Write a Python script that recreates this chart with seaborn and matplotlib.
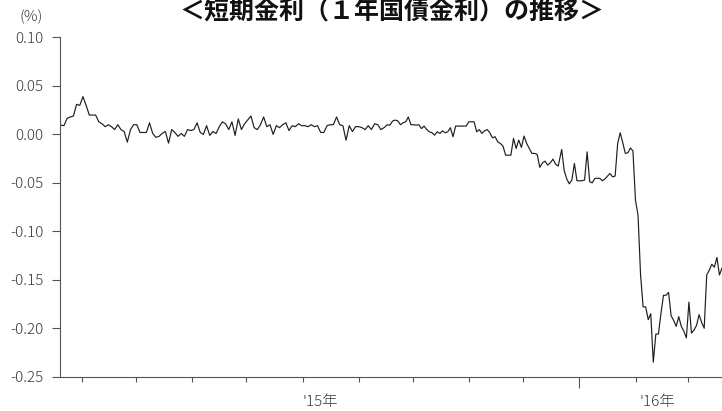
import numpy as np
import pandas as pd
import matplotlib
matplotlib.use("Agg")
import matplotlib.pyplot as plt
import matplotlib.dates as mdates
from matplotlib.ticker import FixedLocator
import seaborn as sns

# ---------------- data ----------------
title = "＜短期金利（１年国債金利）の推移＞"
unit_label = "(%)"
year_labels = ["'15年", "'16年"]
year_label_dates = ["2015-08-11", "2016-02-13"]
long_tick_date = "2016-01-01"
month_ticks = pd.date_range("2015-04-01", "2016-03-01", freq="MS")
yticks = [0.10, 0.05, 0.00, -0.05, -0.10, -0.15, -0.20, -0.25]

# 1-year JGB yield (%), 2015-03-20 .. 2015-09-16
rate_mar_sep = [
    0.0096, 0.009, 0.0165, 0.018, 0.019, 0.031, 0.030, 0.039, 0.030, 0.020,
    0.020, 0.020, 0.013, 0.011, 0.008, 0.010, 0.008, 0.005, 0.010, 0.005,
    0.003, -0.008, 0.005, 0.010, 0.010, 0.002, 0.002, 0.002, 0.012, 0.001,
    -0.003, -0.002, 0.001, 0.003, -0.009, 0.005, 0.002, -0.002, 0.001, -0.002,
    0.005, 0.004, 0.005, 0.012, 0.002, 0.000, 0.009, -0.001, 0.003, 0.001,
    0.008, 0.013, 0.011, 0.005, 0.013, -0.001, 0.016, 0.005, 0.011, 0.015,
    0.019, 0.007, 0.005, 0.010, 0.018, 0.008, 0.010, 0.000, 0.009, 0.007,
    0.010, 0.012, 0.004, 0.009, 0.008, 0.011, 0.009, 0.009, 0.008, 0.010,
    0.008, 0.009, 0.002, 0.002, 0.009, 0.010, 0.010, 0.018, 0.010, 0.009,
    -0.006, 0.009, 0.003, 0.008, 0.008, 0.007, 0.005, 0.009, 0.005, 0.011,
    0.010, 0.005, 0.007, 0.010,
]
# 2015-09-18 .. 2015-12-20
rate_sep_dec = [
    0.0096, 0.0137, 0.0148, 0.014, 0.010, 0.012, 0.013, 0.018, 0.010, 0.010,
    0.0096, 0.010, 0.006, 0.0086, 0.0051, 0.0027, 0.0017, -0.0007, 0.0027, 0.001,
    0.0037, 0.0017, 0.0027, 0.0069, -0.0024, 0.0086, 0.0086, 0.0086, 0.0086, 0.0086,
    0.013, 0.013, 0.013, 0.0027, 0.005, 0.001, 0.0037, 0.005, 0.0017, -0.0035,
    -0.0024, -0.0076, -0.0093, -0.012, -0.0214, -0.0214, -0.0214, -0.0041, -0.0145, -0.0059,
    -0.0134, -0.0017, -0.0093, -0.0145, -0.0196, -0.0196, -0.0207, -0.034, -0.0293, -0.0276,
    -0.0317, -0.0293, -0.0255, -0.0307, -0.0327,
]
# 2015-12-22 .. 2016-03-19
rate_dec_mar = [
    -0.0155, -0.0375, -0.046, -0.051, -0.047, -0.030, -0.0478, -0.0479, -0.0478, -0.047,
    -0.018, -0.0488, -0.050, -0.0455, -0.0452, -0.0454, -0.0478, -0.046, -0.043, -0.0403,
    -0.0438, -0.043, -0.0093, 0.0017, -0.0085, -0.0195, -0.019, -0.014, -0.017, -0.068,
    -0.0833, -0.145, -0.178, -0.178, -0.191, -0.185, -0.235, -0.206, -0.206, -0.185,
    -0.166, -0.166, -0.163, -0.187, -0.192, -0.198, -0.188, -0.198, -0.203, -0.210,
    -0.173, -0.205, -0.202, -0.197, -0.186, -0.194, -0.200, -0.145, -0.140, -0.134,
    -0.137, -0.127, -0.145, -0.138,
]

segments = [
    ("2015-03-20 10:00", "2015-09-16 20:00", rate_mar_sep),
    ("2015-09-18 07:00", "2015-12-20 07:00", rate_sep_dec),
    ("2015-12-22 05:00", "2016-03-19 19:00", rate_dec_mar),
]
df = pd.concat(
    [pd.DataFrame({"date": pd.date_range(s, e, periods=len(v)), "rate": v}) for s, e, v in segments],
    ignore_index=True,
)

# ---------------- plotting ----------------
sns.set_theme(style="ticks")
plt.rcParams["font.family"] = ["Noto Sans CJK JP", "DejaVu Sans"]

W, H = 722, 411
fig = plt.figure(figsize=(W / 100, H / 100), dpi=100)
ax_left, ax_right, ax_top, ax_bottom = 60, 722, 37.5, 376.7
ax = fig.add_axes([ax_left / W, 1 - ax_bottom / H, (ax_right - ax_left) / W, (ax_bottom - ax_top) / H])

sns.lineplot(data=df, x="date", y="rate", ax=ax, color="#1e1e1e", linewidth=0.85)

ax.set_ylim(-0.25, 0.10)
ax.set_xlim(pd.Timestamp("2015-03-20"), pd.Timestamp("2016-03-19 19:00"))
ax.set_xlabel("")
ax.set_ylabel("")

ax.set_yticks(yticks)
ax.set_yticklabels([f"{v:.2f}" for v in yticks], fontweight="light")

major = [m for m in month_ticks if m != pd.Timestamp(long_tick_date)]
ax.xaxis.set_major_locator(FixedLocator(mdates.date2num(major)))
ax.xaxis.set_minor_locator(FixedLocator([mdates.date2num(pd.Timestamp(long_tick_date))]))
ax.xaxis.set_major_formatter(plt.NullFormatter())
ax.xaxis.set_minor_formatter(plt.NullFormatter())

axis_color = "#555555"
text_color = "#3a3a3a"
ax.tick_params(axis="x", which="major", length=3.6, width=0.8, color=axis_color)
ax.tick_params(axis="x", which="minor", length=8, width=0.8, color=axis_color)
ax.tick_params(axis="y", length=6, width=0.8, color=axis_color, pad=6,
               labelsize=11, labelcolor=text_color)

sns.despine(ax=ax)
for side in ("left", "bottom"):
    ax.spines[side].set_color(axis_color)
    ax.spines[side].set_linewidth(0.8)

for lab, d in zip(year_labels, year_label_dates):
    ax.text(pd.Timestamp(d), -0.0746, lab, transform=ax.get_xaxis_transform(),
            ha="center", va="center", fontsize=11, color=text_color, fontweight="light")

fig.text(31 / W, 1 - 17 / H, unit_label, ha="center", va="center", fontsize=11,
         color=text_color, fontweight="light")
# title sits partly above the top edge, as in the reference
fig.text(392 / W, 1 - 19.5 / H, title, ha="center", va="baseline",
         fontsize=18, fontweight="bold", color="#111111")

fig.savefig("out.png", dpi=100)
